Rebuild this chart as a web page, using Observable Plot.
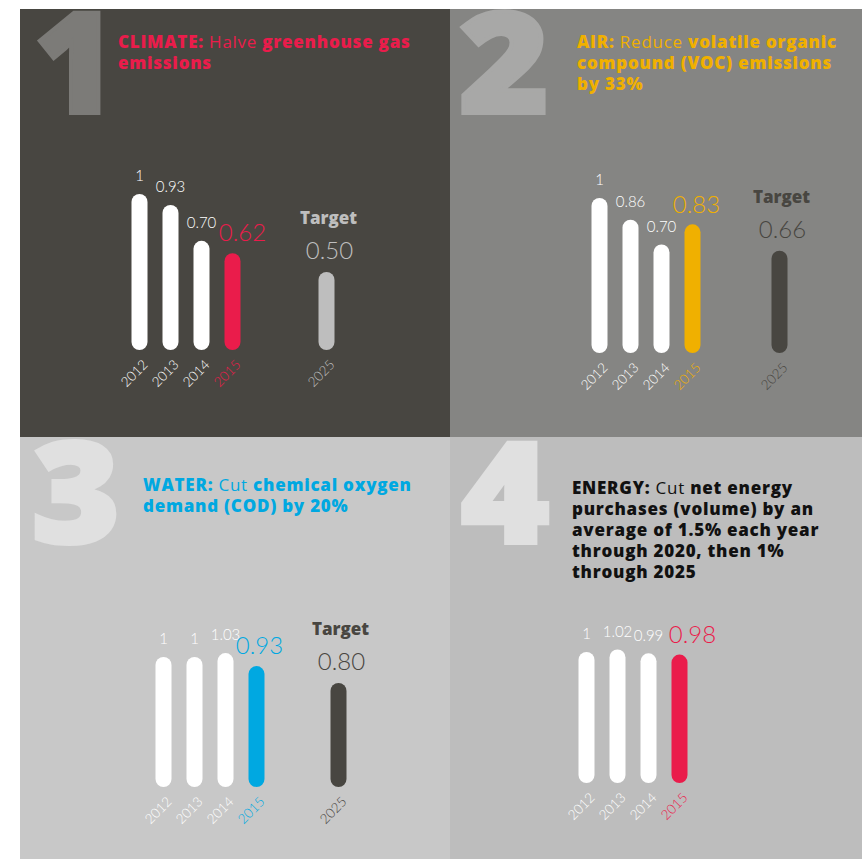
<!DOCTYPE html>
<html>
<head>
<meta charset="utf-8">
<script src="https://cdn.jsdelivr.net/npm/d3@7"></script>
<script src="https://cdn.jsdelivr.net/npm/@observablehq/plot@0.6"></script>
<style>
  html, body { margin: 0; padding: 0; background: #ffffff; }
  #root { position: relative; width: 862px; height: 859px; overflow: hidden; font-family: Lato, "Open Sans", sans-serif; }
  .panel { position: absolute; overflow: hidden; }
  .panel svg { position: absolute; left: 0; top: 0; }
  .num { position: absolute; width: 96px; text-align: center; font-family: "Open Sans", sans-serif; font-weight: 800; font-size: 140px; line-height: 100px; -webkit-text-stroke: 4px currentColor; transform-origin: 50% 50%; }
  .head { position: absolute; font-family: "Open Sans", sans-serif; font-size: 17px; line-height: 21px; font-weight: 800; white-space: nowrap; z-index: 2; letter-spacing: 0.75px; }
  .head .l { font-weight: 400; }
</style>
</head>
<body>
<div id="root"></div>
<script>
// ---------------- data ----------------
const years = [2012, 2013, 2014, 2015];
const targetYear = 2025;

const climateValues = [1, 0.93, 0.70, 0.62];
const climateTarget = 0.50;

const airValues = [1, 0.86, 0.70, 0.83];
const airTarget = 0.66;

const waterValues = [1, 1, 1.03, 0.93];
const waterTarget = 0.80;

const energyValues = [1, 1.02, 0.99, 0.98];

const targetLabel = "Target";

// ---------------- layout / style ----------------
const FONT = "Lato, 'Open Sans', sans-serif";
const panels = [
  { id: "climate", left: 20, top: 9, w: 430, h: 428, bg: "#484641",
    values: climateValues, target: climateTarget,
    xr: [119, 212, 306], yr: [341, 185],
    hi: "#ea1c4b", hiDx: 10, tc: "#bebebe", numColor: "#7c7b78", numeral: "1", numCx: 55, numTop: 0, numScale: 1.0,
    headLeft: 98, headTop: 22, headColor: "#ea1c4b", lh: 21,
    head: '<b>CLIMATE:</b> <span class="l">Halve</span> greenhouse gas<br>emissions' },
  { id: "air", left: 450, top: 9, w: 412, h: 428, bg: "#858583",
    values: airValues, target: airTarget,
    xr: [149, 242, 329], yr: [344, 189],
    hi: "#f0b000", hiDx: 4, tc: "#484641", numColor: "#a8a8a7", numeral: "2", numCx: 54, numTop: 0, numScale: 1.1,
    headLeft: 127, headTop: 22, headColor: "#f0b000", lh: 21,
    head: 'AIR: <span class="l">Reduce</span> volatile organic<br>compound (VOC) emissions<br>by 33%' },
  { id: "water", left: 20, top: 437, w: 430, h: 422, bg: "#c8c8c8",
    values: waterValues, target: waterTarget,
    xr: [143, 236, 318], yr: [350, 220],
    hi: "#00a8e1", hiDx: 3, tc: "#484641", numColor: "#e0e0e0", numeral: "3", numCx: 56, numTop: 2, numScale: 1.08,
    headLeft: 123, headTop: 37, headColor: "#00a8e1", lh: 21,
    head: 'WATER: <span class="l">Cut</span> chemical oxygen<br>demand (COD) by 20%' },
  { id: "energy", left: 450, top: 437, w: 412, h: 422, bg: "#bdbdbd",
    values: energyValues, target: null,
    xr: [136, 229, 322], yr: [346, 215],
    hi: "#ea1c4b", hiDx: 13, tc: "#484641", numColor: "#e0e0e0", numeral: "4", numCx: 55, numTop: 2, numScale: 1.08,
    headLeft: 122, headTop: 40, headColor: "#111111", lh: 21,
    head: 'ENERGY: <span class="l">Cut</span> net energy<br>purchases (volume) by an<br>average of 1.5% each year<br>through 2020, then 1%<br>through 2025' }
];

const fmt = v => (v === 1 ? "1" : v.toFixed(2));
const root = document.getElementById("root");

for (const p of panels) {
  const div = document.createElement("div");
  div.className = "panel";
  Object.assign(div.style, { left: p.left + "px", top: p.top + "px", width: p.w + "px", height: p.h + "px", background: p.bg });

  const num = document.createElement("div");
  num.className = "num";
  num.textContent = p.numeral;
  Object.assign(num.style, { left: (p.numCx - 48) + "px", top: p.numTop + "px", color: p.numColor, transform: `scaleX(${p.numScale})` });
  div.appendChild(num);

  const head = document.createElement("div");
  head.className = "head";
  head.innerHTML = p.head;
  Object.assign(head.style, { left: p.headLeft + "px", top: p.headTop + "px", color: p.headColor, lineHeight: p.lh + "px" });
  div.appendChild(head);

  const rows = years.map((year, i) => ({ year, value: p.values[i] }));
  const normal = rows.slice(0, rows.length - 1);
  const latest = rows.slice(rows.length - 1);
  const tgt = p.target != null ? [{ year: targetYear, value: p.target }] : [];

  const barOpts = { x: "year", y1: "value", y2: 0, strokeWidth: 16, strokeLinecap: "round", insetTop: 8, insetBottom: 8 };
  const yearOpts = { x: "year", y: 0, text: d => String(d.year), rotate: -45, textAnchor: "end", dx: 6, dy: 12,
                     fontSize: 13.5, fontWeight: 300, fontFamily: FONT };

  const marks = [
    Plot.ruleX(normal, { ...barOpts, stroke: "#ffffff" }),
    Plot.ruleX(latest, { ...barOpts, stroke: p.hi }),
    Plot.text(normal, { x: "year", y: "value", text: d => fmt(d.value), dy: -18, fill: "#ffffff", fontSize: 15, fontWeight: 300, fontFamily: FONT }),
    Plot.text(latest, { x: "year", y: "value", text: d => fmt(d.value), dy: -20, dx: p.hiDx, fill: p.hi, fontSize: 24, fontWeight: 300, fontFamily: FONT }),
    Plot.text(normal, { ...yearOpts, fill: "#ffffff" }),
    Plot.text(latest, { ...yearOpts, fill: p.hi })
  ];
  if (tgt.length) {
    marks.push(
      Plot.ruleX(tgt, { ...barOpts, stroke: p.tc }),
      Plot.text(tgt, { x: "year", y: "value", text: d => fmt(d.value), dy: -21, dx: 3, fill: p.tc, fontSize: 24, fontWeight: 300, fontFamily: FONT }),
      Plot.text(tgt, { x: "year", y: "value", text: () => targetLabel, dy: -54, dx: 2, fill: p.tc, fontSize: 17, fontWeight: 800, fontFamily: "'Open Sans', sans-serif" }),
      Plot.text(tgt, { ...yearOpts, fill: p.tc })
    );
  }

  const chart = Plot.plot({
    width: p.w,
    height: p.h,
    margin: 0,
    style: { background: "transparent", overflow: "visible" },
    x: { type: "linear", domain: [2012, 2015, 2025], range: p.xr, axis: null },
    y: { type: "linear", domain: [0, 1], range: p.yr, axis: null },
    marks
  });
  div.appendChild(chart);
  root.appendChild(div);
}
</script>
</body>
</html>
